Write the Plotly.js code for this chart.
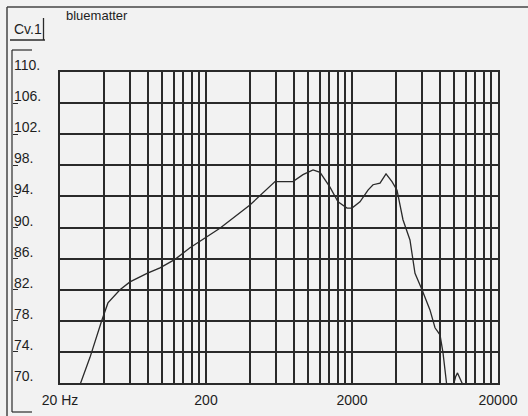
<!DOCTYPE html>
<html>
<head>
<meta charset="utf-8">
<script src="https://cdn.plot.ly/plotly-3.0.1.min.js"></script>
<style>html,body{margin:0;padding:0;background:#f2f2f2;}#chart{width:528px;height:416px;}</style>
</head>
<body>
<div id="chart"></div>
<script>
// Frequency response (Hz) and SPL (dB)
const freqHz = [25, 27.7, 32.1, 34.4, 38.6, 42.6, 51.5, 60.3, 78.9, 96.8, 122.7, 155.4, 249, 400, 594, 788, 923, 1082, 1208, 1413, 1604, 1849, 2000, 2268, 2574, 2786, 3111, 3420, 3758, 4068, 4469, 4990, 5402, 6034, 6840, 7406, 8012, 8398, 8948, 9400, 9990, 10250, 10560, 10900, 11336, 12000];
const splDb  = [67, 70.0, 73.3, 75.1, 78.0, 80.3, 82.0, 83.0, 84.1, 84.8, 85.9, 87.4, 89.9, 92.9, 95.9, 95.9, 96.8, 97.4, 97.1, 95.2, 93.3, 92.5, 92.5, 93.3, 94.8, 95.5, 95.7, 96.9, 95.9, 94.8, 91.0, 88.4, 84.1, 82.0, 79.4, 77.1, 76.2, 73.9, 70.0, 66, 70.0, 70.8, 71.3, 70.7, 70.0, 66];

// Axis ticks
const xGridVals = [20,40,60,80,100,120,140,160,180,200,400,600,800,1000,1200,1400,1600,1800,2000,4000,6000,8000,10000,12000,14000,16000,18000,20000];
const xLabelMap = {20: "20 Hz", 200: "200", 2000: "2000", 20000: "20000"};
const yTickVals = [70,74,78,82,86,90,94,98,102,106,110];
const yTickText = ["70.","74.","78.","82.","86.","90.","94.","98.","102.","106.","110."];
const seriesName = "Cv.1";
const chartTitle = "bluematter";

const ink = "#2a2a2a";
const txt = "#1e1e1e";
const xText = xGridVals.map(v => xLabelMap[v] || "");

// pixel -> paper helpers (plot area: x 12..498, y 72..383)
const px = x => (x - 12) / 486;
const py = y => (383 - y) / 311;

const trace = {
  x: freqHz, y: splDb, type: "scatter", mode: "lines",
  line: {color: ink, width: 1.3}, hoverinfo: "skip", showlegend: false
};

const yLabelAnn = yTickVals.map((v, i) => ({
  text: yTickText[i], xref: "paper", yref: "y", x: px(11.5), y: v,
  xanchor: "left", yanchor: "bottom", yshift: -3, showarrow: false,
  font: {size: 14, color: txt}
}));

const layout = {
  width: 528, height: 416,
  margin: {l: 12, r: 30, t: 72, b: 33, pad: 0},
  paper_bgcolor: "#f2f2f2", plot_bgcolor: "#f2f2f2",
  font: {family: "Liberation Sans, Arial, sans-serif", color: txt},
  showlegend: false,
  xaxis: {
    type: "log", range: [Math.log10(20), Math.log10(20000)],
    domain: [48/486, 1],
    tickmode: "array", tickvals: xGridVals, ticktext: xText,
    showgrid: true, gridcolor: ink, gridwidth: 2,
    ticks: "", showline: true, mirror: true, linecolor: ink, linewidth: 2,
    zeroline: false, tickfont: {size: 14, color: txt}, ticklabelstandoff: 3,
    fixedrange: true
  },
  yaxis: {
    range: [70, 110], anchor: "free", position: 0,
    tickmode: "array", tickvals: yTickVals, showticklabels: false,
    showgrid: true, gridcolor: ink, gridwidth: 2,
    ticks: "inside", ticklen: 5, tickcolor: ink, tickwidth: 1.2,
    showline: false, zeroline: false,
    fixedrange: true
  },
  yaxis2: {
    range: [70, 110], overlaying: "y", anchor: "x", side: "left",
    showline: true, mirror: true, linecolor: ink, linewidth: 2,
    showgrid: false, zeroline: false, showticklabels: false, ticks: "",
    fixedrange: true
  },
  shapes: [
    // outer frame (top and left)
    {type: "line", xref: "paper", yref: "paper", x0: px(7), x1: px(528), y0: py(7), y1: py(7), line: {color: "#444", width: 1.5}},
    {type: "line", xref: "paper", yref: "paper", x0: px(7), x1: px(7), y0: py(7), y1: py(416), line: {color: "#444", width: 1.5}},
    // y scale bracket
    {type: "line", xref: "paper", yref: "paper", x0: px(12), x1: px(12), y0: py(50), y1: py(412), line: {color: ink, width: 1.2}},
    {type: "line", xref: "paper", yref: "paper", x0: px(12), x1: px(32), y0: py(50), y1: py(50), line: {color: ink, width: 1.2}},
    {type: "line", xref: "paper", yref: "paper", x0: px(12), x1: px(32), y0: py(412), y1: py(412), line: {color: ink, width: 1.2}},
    // Cv.1 button edges
    {type: "line", xref: "paper", yref: "paper", x0: px(43.5), x1: px(43.5), y0: py(18), y1: py(40), line: {color: ink, width: 1.3}},
    {type: "line", xref: "paper", yref: "paper", x0: px(10), x1: px(45), y0: py(40), y1: py(40), line: {color: ink, width: 1.3}}
  ],
  annotations: [
    {text: seriesName, xref: "paper", yref: "paper", x: px(28), y: py(29), xanchor: "center", yanchor: "middle", showarrow: false, font: {size: 14, color: txt}},
    {text: chartTitle, xref: "paper", yref: "paper", x: px(64), y: py(15), xanchor: "left", yanchor: "middle", showarrow: false, font: {size: 13, color: txt}}
  ].concat(yLabelAnn)
};

const data = [trace, {x: [], y: [], yaxis: "y2", type: "scatter", showlegend: false, hoverinfo: "skip"}];
Plotly.newPlot("chart", data, layout, {staticPlot: true, displayModeBar: false});
</script>
</body>
</html>
